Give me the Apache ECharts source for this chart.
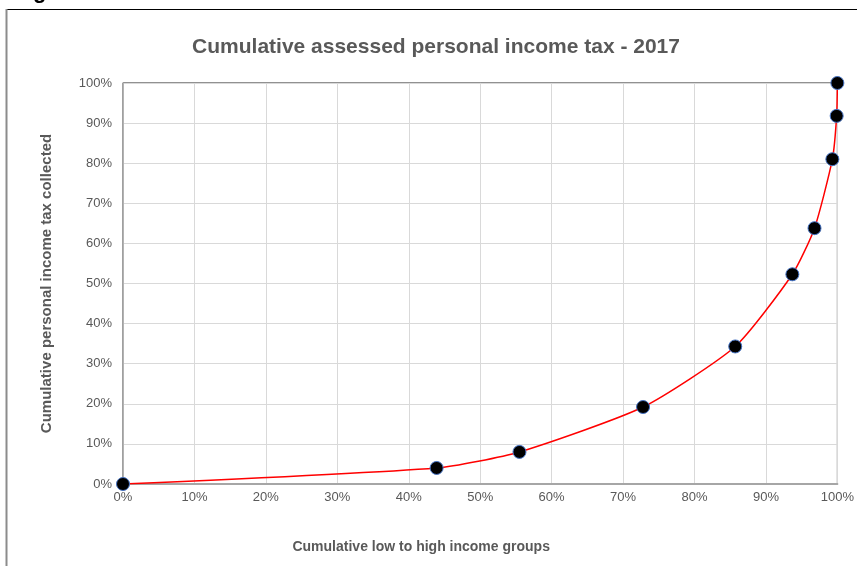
<!DOCTYPE html>
<html>
<head>
<meta charset="utf-8">
<script src="https://cdn.jsdelivr.net/npm/echarts@6/dist/echarts.min.js"></script>
<style>
html,body{margin:0;padding:0;background:#fff;}
#chart{width:857px;height:566px;}
</style>
</head>
<body>
<div id="chart"></div>
<script>
const titleText = 'Cumulative assessed personal income tax - 2017';
const xAxisName = 'Cumulative low to high income groups';
const yAxisName = 'Cumulative personal income tax collected';
const xValues = [0, 43.9, 55.5, 72.8, 85.7, 93.7, 96.8, 99.3, 99.9, 100];
const yValues = [0, 4.0, 8.0, 19.2, 34.3, 52.3, 63.8, 81.0, 91.8, 100];

const points = xValues.map((x, i) => [x, yValues[i]]);
const FONT = '"Liberation Sans", Arial, sans-serif';

const chart = echarts.init(document.getElementById('chart'));
chart.setOption({
  backgroundColor: '#fff',
  animation: false,
  title: {
    text: titleText,
    left: 431, top: 32, textAlign: 'center',
    textStyle: {fontFamily: FONT, fontSize: 21, fontWeight: 'bold', color: '#595959'}
  },
  grid: {left: 123, right: 19, top: 83, bottom: 82, show: true, borderColor: '#222', borderWidth: 1, backgroundColor: 'transparent'},
  xAxis: {
    type: 'value', min: 0, max: 100, interval: 10,
    name: xAxisName, nameLocation: 'middle', nameGap: 56,
    nameTextStyle: {fontFamily: FONT, fontSize: 14, fontWeight: 'bold', color: '#595959', padding: [0, 118, 0, 0]},
    axisLine: {show: true, lineStyle: {color: '#a6a6a6', width: 2}},
    axisTick: {show: false},
    axisLabel: {formatter: '{value}%', fontFamily: FONT, fontSize: 13, color: '#595959', margin: 7},
    splitLine: {show: true, lineStyle: {color: '#d9d9d9', width: 1}}
  },
  yAxis: {
    type: 'value', min: 0, max: 100, interval: 10,
    name: yAxisName, nameLocation: 'middle', nameGap: 69,
    nameTextStyle: {fontFamily: FONT, fontSize: 15, fontWeight: 'bold', color: '#595959'},
    axisLine: {show: true, lineStyle: {color: '#a6a6a6', width: 1.5}},
    axisTick: {show: false},
    axisLabel: {formatter: '{value}%', fontFamily: FONT, fontSize: 13, color: '#595959', margin: 11},
    splitLine: {show: true, lineStyle: {color: '#d9d9d9', width: 1}}
  },
  series: [{
    type: 'line',
    data: points,
    smooth: 0.2,
    lineStyle: {color: '#ff0000', width: 1.5},
    symbol: 'circle', symbolSize: 13,
    itemStyle: {color: '#000', borderColor: '#4472c4', borderWidth: 1},
    z: 5
  }],
  graphic: [
    {type: 'line', shape: {x1: 7, y1: 9.5, x2: 857, y2: 9.5}, style: {stroke: '#000', lineWidth: 1}},
    {type: 'line', shape: {x1: 6.5, y1: 9, x2: 6.5, y2: 566}, style: {stroke: '#8c8c8c', lineWidth: 2}},
    {type: 'text', left: 33, top: -19, style: {text: 'g', fontFamily: FONT, fontSize: 22, fontWeight: 'bold', fill: '#000'}}
  ]
});
</script>
</body>
</html>
